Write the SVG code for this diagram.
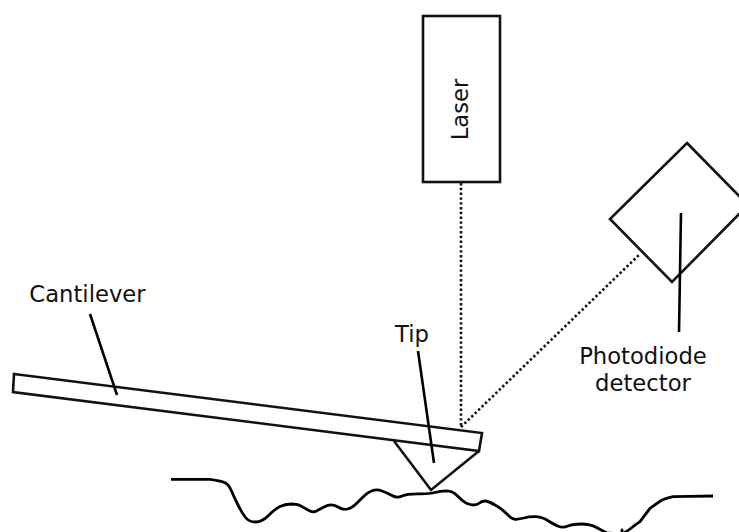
<svg xmlns="http://www.w3.org/2000/svg" width="739" height="532" viewBox="0 0 739 532">
<style>
.s{fill:none;stroke:#111;stroke-width:2.6;stroke-linejoin:miter}
.l{fill:none;stroke:#000;stroke-width:2.6}
.d{fill:none;stroke:#111;stroke-width:2.6;stroke-dasharray:2.4 2.4}
text{font-family:"DejaVu Sans",sans-serif;font-size:22.7px;fill:#111;text-anchor:middle}
</style>
<rect width="739" height="532" fill="#fff"/>
<g id="connectors">
<path class="d" d="M461 183V427"/>
<path class="d" d="M461 427L640 254"/>
</g>
<g id="laser"><rect class="s" x="423" y="16" width="77" height="166"/><text transform="translate(468,109.5) rotate(-90)">Laser</text></g>
<g id="detector"><path class="s" d="M687 143L748 205L672 282L610 219Z"/><text x="643" y="364">Photodiode</text><text x="643" y="390.500">detector</text><path class="l" d="M681 213L679 332"/></g>
<g id="cantilever"><path class="s" d="M14 374L482 433L479 451L13 392Z"/><text x="87.500" y="302">Cantilever</text><path class="l" d="M90 314L117 395"/></g>
<g id="tip"><path class="s" d="M394 441L431 490L479 451"/><text x="412" y="342">Tip</text><path class="l" d="M418 351L434 463"/></g>
<g id="surface"><path fill="none" stroke="#000" stroke-width="2.8" stroke-linejoin="round" d="M171 479.300L210 479.300Q222 481 225.500 483Q229 485 231.500 491Q234 497 238 505Q242 513 245.500 517.500Q249 522 255.500 522Q262 522 268.500 515.500Q275 509 280 506.500Q285 504.300 291 504Q297 504 300 505.500Q303 507 308 510Q313 513 316.500 511Q320 509 324 507Q328 504.700 331.500 504.800Q335 505 339 507.500Q343 510 347.500 509Q352 508 356 504Q360 500 363.500 496.500Q367 492.700 372 490.800Q377 489 382 491Q387 492.700 392 495.500Q397 498.500 402 496Q407 493.700 418 493.800Q430 494 435 492.500Q440 491 446.500 490.800Q453 491 457.500 496Q462 500.700 466 503Q470 505 473.500 505Q477 505 479.500 503Q482 501 485 501Q488 501 495 505Q502 509 507 514Q512 519.500 516 519.300Q520 519 524 518Q528 516.700 535 516.700Q542 516.700 548.500 521Q555 525 559 526.500Q563 528 568 526Q573 524 581.500 524Q590 524 596.500 527.500Q603 531 607 533L622 534L622 530L622 534Q626 532 630 529Q635 525 640 521.700Q645 515 650 508.300Q656 504 662 500Q667 498 673 496.700L690 496.400L713 496"/></g>
</svg>
